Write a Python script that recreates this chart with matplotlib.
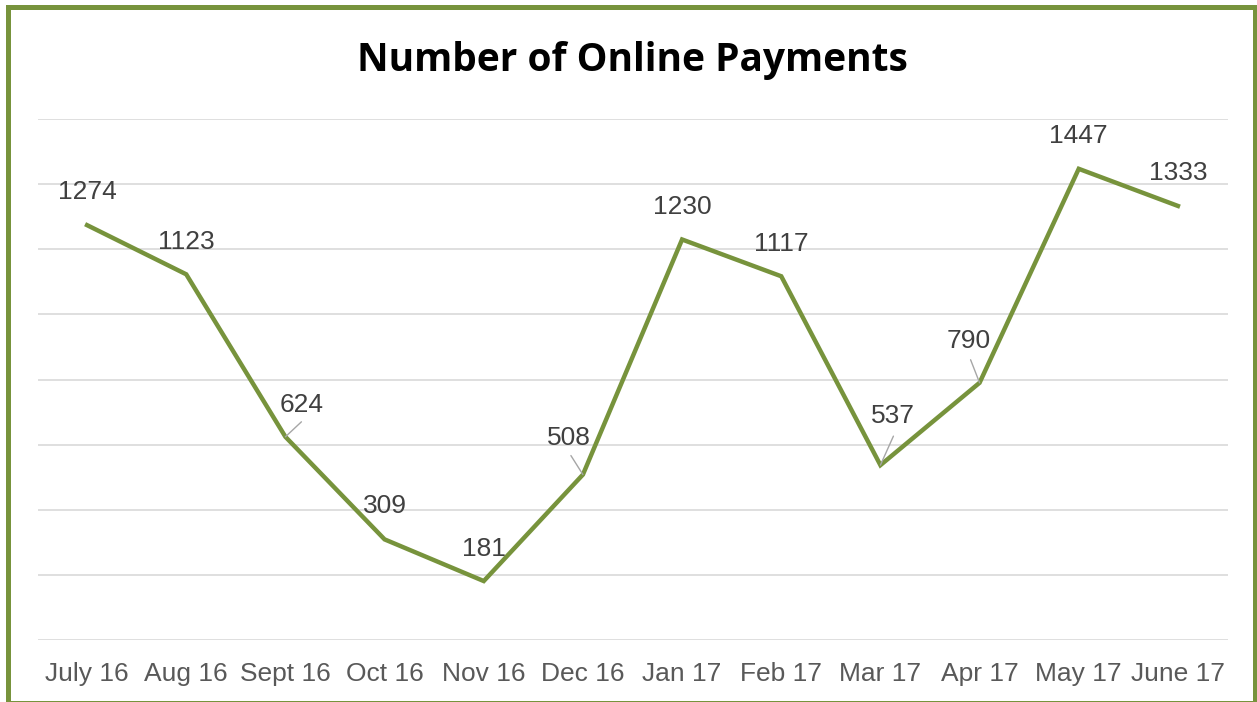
import matplotlib.pyplot as plt
from matplotlib.patches import Rectangle

months = ["July 16", "Aug 16", "Sept 16", "Oct 16", "Nov 16", "Dec 16",
          "Jan 17", "Feb 17", "Mar 17", "Apr 17", "May 17", "June 17"]
payments = [1274, 1123, 624, 309, 181, 508, 1230, 1117, 537, 790, 1447, 1333]
y_ticks = [0, 200, 400, 600, 800, 1000, 1200, 1400, 1600]

green = "#77933C"
dpi = 100
W, H = 1257, 702

fig = plt.figure(figsize=(W / dpi, H / dpi), dpi=dpi)
ax = fig.add_axes([37.5 / W, 1 - 640 / H, 1190 / W, 521 / H])

x = list(range(len(months)))
ax.plot(x, payments, color=green, lw=3.2, solid_joinstyle='miter', zorder=3)
ax.set_xlim(-0.5, len(months) - 0.5)
ax.set_ylim(y_ticks[0], y_ticks[-1])
ax.set_yticks(y_ticks)
ax.set_yticklabels([])
ax.grid(axis='y', color='#d9d9d9', lw=1.2)
ax.set_axisbelow(True)
ax.tick_params(length=0)
ax.tick_params(axis='x', pad=16)
ax.set_xticks(x)
ax.set_xticklabels(months, fontsize=19, color='#595959', family='Liberation Sans')
for s in ax.spines.values():
    s.set_visible(False)

# label offsets in pixels (dx, dy); leader line end offsets where Excel drew one
offsets = [(0, 33), (0, 32), (16, 32), (0, 33), (0, 32), (-14, 37),
           (0, 32), (0, 32), (13, 49), (-11, 42), (0, 33), (0, 33)]
leaders = {2: (16, 15), 5: (-12, 19), 8: (13, 29), 9: (-9, 23)}

for i, v in enumerate(payments):
    dx, dy = offsets[i]
    ax.annotate(str(v), (i, v), xytext=(dx, dy), textcoords='offset pixels',
                ha='center', va='center', fontsize=19, color='#404040',
                family='Liberation Sans', zorder=4)
    if i in leaders:
        ax.annotate('', (i, v), xytext=leaders[i], textcoords='offset pixels',
                    arrowprops=dict(arrowstyle='-', color='#a6a6a6', lw=1,
                                    shrinkA=0, shrinkB=0), zorder=4)

fig.text(632 / W, 1 - 60 / H, "Number of Online Payments", ha='center', va='center',
         fontsize=28, fontweight='bold', family='Open Sans', color='black')

fig.patches.append(Rectangle((7.5 / W, 1 - 702.5 / H), 1247 / W, 696 / H,
                             transform=fig.transFigure, fill=False,
                             edgecolor=green, lw=3.6))

fig.savefig("out.png", dpi=dpi)
